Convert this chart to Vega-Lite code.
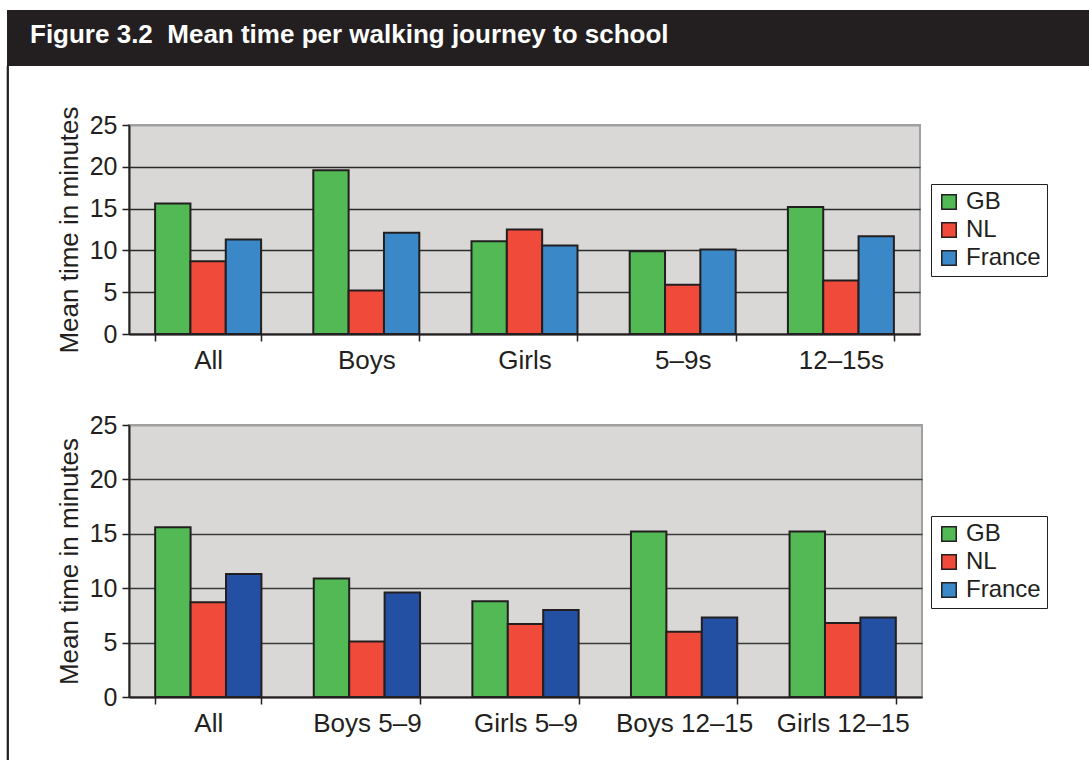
{
  "$schema": "https://vega.github.io/schema/vega-lite/v6.json",
  "background": "white",
  "padding": {"left": 6, "top": 10, "right": 0, "bottom": 0},
  "config": {
    "font": "Liberation Sans",
    "view": {"stroke": null},
    "axisX": {
      "labelFontSize": 26, "labelColor": "#231f20", "labelAngle": 0, "labelPadding": 6.5,
      "tickSize": 7, "tickColor": "#231f20", "tickWidth": 1.5, "tickBand": "extent",
      "domainColor": "#231f20", "domainWidth": 2, "grid": false, "title": null
    },
    "axisY": {
      "labelFontSize": 25, "labelColor": "#231f20", "labelPadding": 5,
      "tickSize": 7, "tickColor": "#231f20", "tickWidth": 1.5,
      "domainColor": "#231f20", "domainWidth": 2,
      "titleFontSize": 26, "titleFontWeight": "normal", "titleColor": "#231f20", "titlePadding": 7
    },
    "legend": {
      "title": null, "orient": "none", "strokeColor": "#231f20", "fillColor": "white",
      "padding": 6, "symbolType": "square", "symbolSize": 210, "symbolStrokeColor": "#231f20",
      "symbolStrokeWidth": 1.5, "labelFontSize": 24, "labelColor": "#231f20", "labelOffset": 5, "rowPadding": 4
    }
  },
  "bounds": "flush",
  "spacing": 0,
  "vconcat": [
    {
      "width": 1083, "height": 56,
      "data": {"values": []},
      "mark": "rect",
      "encoding": {},
      "view": {"fill": "#231f20", "stroke": null},
      "title": {
        "text": "Figure 3.2\u00a0\u00a0Mean time per walking journey to school",
        "anchor": "start", "orient": "top", "frame": "group", "baseline": "alphabetic",
        "offset": -59, "dx": 23, "color": "white", "fontSize": 26, "fontWeight": "bold", "font": "Liberation Sans"
      }
    },
    {
      "bounds": "flush",
      "spacing": 121,
      "hconcat": [
        {
          "width": 1, "height": 694,
          "data": {"values": []},
          "mark": "rect",
          "encoding": {},
          "view": {"fill": "#231f20", "stroke": "#231f20", "strokeWidth": 1.2}
        },
        {
          "bounds": "flush",
          "spacing": 0,
          "vconcat": [
            {
              "width": 791, "height": 59,
              "data": {"values": []},
              "mark": "rect",
              "encoding": {},
              "view": {"stroke": null}
            },
            {
              "bounds": "flush",
              "spacing": 91,
              "resolve": {"scale": {"x": "independent", "y": "independent", "xOffset": "independent", "fill": "independent", "color": "independent"}, "legend": {"fill": "independent", "color": "independent"}, "axis": {"x": "independent", "y": "independent"}},
              "vconcat": [
                {
                  "width": 791, "height": 209,
                  "data": {"values": [
                    {"group": "All", "country": "GB", "minutes": 15.6},
                    {"group": "All", "country": "NL", "minutes": 8.7},
                    {"group": "All", "country": "France", "minutes": 11.3},
                    {"group": "Boys", "country": "GB", "minutes": 19.6},
                    {"group": "Boys", "country": "NL", "minutes": 5.2},
                    {"group": "Boys", "country": "France", "minutes": 12.1},
                    {"group": "Girls", "country": "GB", "minutes": 11.1},
                    {"group": "Girls", "country": "NL", "minutes": 12.5},
                    {"group": "Girls", "country": "France", "minutes": 10.6},
                    {"group": "5–9s", "country": "GB", "minutes": 9.9},
                    {"group": "5–9s", "country": "NL", "minutes": 5.9},
                    {"group": "5–9s", "country": "France", "minutes": 10.1},
                    {"group": "12–15s", "country": "GB", "minutes": 15.2},
                    {"group": "12–15s", "country": "NL", "minutes": 6.4},
                    {"group": "12–15s", "country": "France", "minutes": 11.7}
                  ]},
                  "mark": {"type": "bar", "stroke": "#231f20", "strokeWidth": 2},
                  "encoding": {
                    "x": {"field": "group", "type": "nominal", "sort": ["All", "Boys", "Girls", "5–9s", "12–15s"],
                          "scale": {"paddingInner": 0.33, "paddingOuter": 0.165}},
                    "xOffset": {"field": "country", "type": "nominal", "sort": ["GB", "NL", "France"], "scale": {"paddingInner": 0, "paddingOuter": 0}},
                    "y": {"field": "minutes", "type": "quantitative", "scale": {"domain": [0, 25], "nice": false},
                          "axis": {"title": "Mean time in minutes", "values": [0, 5, 10, 15, 20, 25], "grid": true,
                                   "gridColor": {"condition": {"test": "datum.value === 25", "value": "#a0a0a0"}, "value": "#2a2a2a"},
                                   "gridWidth": {"condition": {"test": "datum.value === 25", "value": 2}, "value": 1.3}}},
                    "fill": {"field": "country", "type": "nominal", "sort": ["GB", "NL", "France"],
                             "scale": {"domain": ["GB", "NL", "France"], "range": ["#52b955", "#ef4a3a", "#3a88c8"]},
                             "legend": {"legendX": 802, "legendY": 59}}
                  },
                  "view": {"fill": "#d9d8d6", "stroke": "#a0a0a0", "strokeWidth": 2}
                },
                {
                  "width": 793, "height": 272,
                  "view": {"fill": "#d9d8d6", "stroke": "#a0a0a0", "strokeWidth": 2},
                  "resolve": {"scale": {"color": "independent", "fill": "independent"}, "legend": {"color": "independent", "fill": "independent"}},
                  "layer": [
                    {
                      "data": {"values": [
                        {"group": "All", "country": "GB", "minutes": 15.6},
                        {"group": "All", "country": "NL", "minutes": 8.7},
                        {"group": "All", "country": "France", "minutes": 11.3},
                        {"group": "Boys 5–9", "country": "GB", "minutes": 10.9},
                        {"group": "Boys 5–9", "country": "NL", "minutes": 5.1},
                        {"group": "Boys 5–9", "country": "France", "minutes": 9.6},
                        {"group": "Girls 5–9", "country": "GB", "minutes": 8.8},
                        {"group": "Girls 5–9", "country": "NL", "minutes": 6.7},
                        {"group": "Girls 5–9", "country": "France", "minutes": 8.0},
                        {"group": "Boys 12–15", "country": "GB", "minutes": 15.2},
                        {"group": "Boys 12–15", "country": "NL", "minutes": 6.0},
                        {"group": "Boys 12–15", "country": "France", "minutes": 7.3},
                        {"group": "Girls 12–15", "country": "GB", "minutes": 15.2},
                        {"group": "Girls 12–15", "country": "NL", "minutes": 6.8},
                        {"group": "Girls 12–15", "country": "France", "minutes": 7.3}
                      ]},
                      "mark": {"type": "bar", "stroke": "#231f20", "strokeWidth": 2},
                      "encoding": {
                        "x": {"field": "group", "type": "nominal", "sort": ["All", "Boys 5–9", "Girls 5–9", "Boys 12–15", "Girls 12–15"],
                              "scale": {"paddingInner": 0.33, "paddingOuter": 0.165}},
                        "xOffset": {"field": "country", "type": "nominal", "sort": ["GB", "NL", "France"], "scale": {"paddingInner": 0, "paddingOuter": 0}},
                        "y": {"field": "minutes", "type": "quantitative", "scale": {"domain": [0, 25], "nice": false},
                              "axis": {"title": "Mean time in minutes", "values": [0, 5, 10, 15, 20, 25], "grid": true,
                                       "gridColor": {"condition": {"test": "datum.value === 25", "value": "#a0a0a0"}, "value": "#3a3a3a"},
                                       "gridWidth": {"condition": {"test": "datum.value === 25", "value": 2}, "value": 1.3}}},
                        "fill": {"field": "country", "type": "nominal", "sort": ["GB", "NL", "France"],
                                 "scale": {"domain": ["GB", "NL", "France"], "range": ["#52b955", "#ef4a3a", "#2350a3"]},
                                 "legend": null}
                      }
                    },
                    {
                      "data": {"values": []},
                      "mark": {"type": "bar", "stroke": "#231f20", "strokeWidth": 1.5},
                      "encoding": {
                        "color": {"field": "nation", "type": "nominal", "sort": ["GB", "NL", "France"],
                                  "scale": {"domain": ["GB", "NL", "France"], "range": ["#52b955", "#ef4a3a", "#3a88c8"]},
                                  "legend": {"legendX": 802, "legendY": 91}}
                      }
                    }
                  ]
                }
              ]
            }
          ]
        }
      ]
    }
  ]
}
